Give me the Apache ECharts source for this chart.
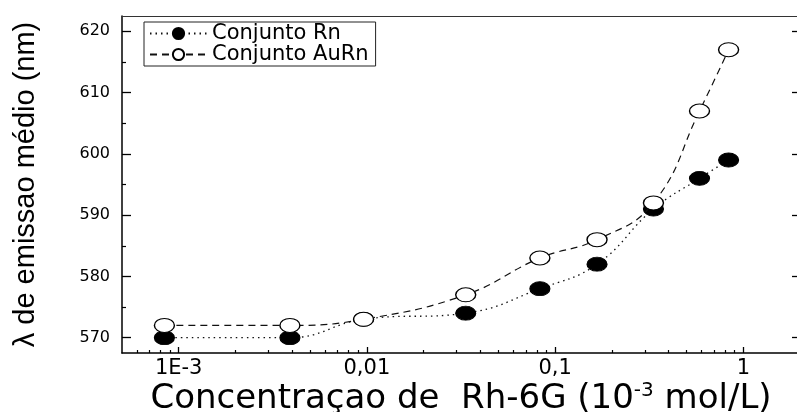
<!DOCTYPE html>
<html>
<head>
<meta charset="utf-8">
<script src="https://cdn.jsdelivr.net/npm/echarts@6/dist/echarts.min.js"></script>
<style>
  html, body { margin: 0; padding: 0; background: #fff; }
  #chart { width: 797px; height: 412px; }
</style>
</head>
<body>
<div id="chart"></div>
<script>
// Rh-6G concentration (10^-3 mol/L) and mean emission wavelength (nm)
const concentration = [0.00084, 0.0039, 0.0096, 0.0335, 0.083, 0.167, 0.333, 0.585, 0.835];
const lambdaRn      = [570, 570, 573, 574, 578, 582, 591, 596, 599];
const lambdaAuRn    = [572, 572, 573, 577, 583, 586, 592, 607, 617];

const seriesNames = ['Conjunto Rn', 'Conjunto AuRn'];

const xTickValues = [0.001, 0.01, 0.1, 1];
const xTickLabels = ['1E-3', '0,01', '0,1', '1'];
const yTickValues = [570, 580, 590, 600, 610, 620];
const yTickLabels = ['570', '580', '590', '600', '610', '620'];
const yMinorValues = [575, 585, 595, 605, 615];

const xMin = 0.0005, xMax = 2;
const yMin = 567.5, yMax = 622.5;

// logarithmic minor ticks at 2..9 of each decade
const xMinorValues = [];
for (let e = -4; e <= 0; e++) {
  for (let m = 2; m <= 9; m++) {
    const v = Number((m * Math.pow(10, e)).toPrecision(6));
    if (v > xMin && v < xMax) xMinorValues.push(v);
  }
}

const pairs = (xs, ys) => xs.map((x, i) => [x, ys[i]]);

function xLabel(value) {
  for (let i = 0; i < xTickValues.length; i++) {
    if (Math.abs(Math.log10(value) - Math.log10(xTickValues[i])) < 1e-6) return xTickLabels[i];
  }
  return '';
}
function yLabel(value) {
  const i = yTickValues.indexOf(Math.round(value));
  return i >= 0 ? yTickLabels[i] : '';
}

const black = '#000';
const sans = 'Liberation Sans, Arial, sans-serif';
const wide = 'DejaVu Sans, sans-serif';

const chart = echarts.init(document.getElementById('chart'), null, { renderer: 'canvas' });

const hiddenLabel = { show: false };
const baseX = { type: 'log', logBase: 10, min: xMin, max: xMax, gridIndex: 0, splitLine: { show: false } };
const baseY = { type: 'value', min: yMin, max: yMax, gridIndex: 0, splitLine: { show: false } };

chart.setOption({
  animation: false,
  backgroundColor: '#fff',
  textStyle: { fontFamily: sans, color: black },
  grid: { left: 122, top: 16, right: -3, bottom: 59, containLabel: false, outerBoundsMode: 'none' },
  legend: {
    left: 144, top: 22,
    orient: 'vertical',
    data: seriesNames,
    itemWidth: 57, itemHeight: 14, itemGap: 0,
    padding: [1, 7, 1, 5],
    borderColor: '#222', borderWidth: 1,
    backgroundColor: '#fff',
    textStyle: { fontFamily: wide, fontSize: 21, color: black }
  },
  xAxis: [
    Object.assign({}, baseX, {
      position: 'bottom',
      axisLine: { show: true, lineStyle: { color: black, width: 1.5 } },
      axisTick: { show: true, inside: true, length: 6, customValues: xTickValues, lineStyle: { color: black, width: 1.3 } },
      axisLabel: { show: true, customValues: xTickValues, formatter: xLabel, margin: 5,
                   fontFamily: wide, fontSize: 21, color: black },
      name: 'Concentraçao de  Rh-6G (10{sup|-3} mol/L)',
      nameLocation: 'middle',
      nameGap: 28,
      nameMoveOverlap: false,
      nameTextStyle: {
        fontFamily: wide, fontSize: 34, color: black, lineHeight: 36,
        rich: { sup: { fontFamily: wide, fontSize: 20, color: black, verticalAlign: 'top', lineHeight: 36, padding: [0, 0, 14, 0] } }
      }
    }),
    Object.assign({}, baseX, {
      position: 'bottom',
      axisLine: { show: false },
      axisTick: { show: true, inside: true, length: 3, customValues: xMinorValues, lineStyle: { color: black, width: 1.2 } },
      axisLabel: hiddenLabel
    }),
    Object.assign({}, baseX, {
      position: 'top',
      axisLine: { show: true, lineStyle: { color: '#333', width: 1.2 } },
      axisTick: { show: false },
      axisLabel: hiddenLabel
    })
  ],
  yAxis: [
    Object.assign({}, baseY, {
      position: 'left',
      axisLine: { show: true, lineStyle: { color: black, width: 1.5 } },
      axisTick: { show: true, inside: true, length: 9, customValues: yTickValues, lineStyle: { color: black, width: 1.3 } },
      axisLabel: { show: true, customValues: yTickValues, formatter: yLabel, margin: 12,
                   fontFamily: wide, fontSize: 16, color: black },
      name: 'λ de emissao médio (nm)',
      nameLocation: 'middle',
      nameGap: 82,
      nameMoveOverlap: false,
      nameTextStyle: { fontFamily: sans, fontSize: 29, color: black }
    }),
    Object.assign({}, baseY, {
      position: 'left',
      axisLine: { show: false },
      axisTick: { show: true, inside: true, length: 4, customValues: yMinorValues, lineStyle: { color: black, width: 1.2 } },
      axisLabel: hiddenLabel
    }),
    Object.assign({}, baseY, {
      position: 'right',
      axisLine: { show: true, lineStyle: { color: black, width: 1.5 } },
      axisTick: { show: true, inside: true, length: 8, customValues: yTickValues, lineStyle: { color: black, width: 1.3 } },
      axisLabel: hiddenLabel
    }),
    Object.assign({}, baseY, {
      position: 'right',
      axisLine: { show: false },
      axisTick: { show: true, inside: true, length: 3, customValues: yMinorValues, lineStyle: { color: black, width: 1.2 } },
      axisLabel: hiddenLabel
    })
  ],
  series: [
    {
      name: seriesNames[0],
      type: 'line',
      xAxisIndex: 0, yAxisIndex: 0,
      data: pairs(concentration, lambdaRn),
      smooth: 0.45,
      symbol: 'circle',
      symbolSize: [20, 14],
      itemStyle: { color: black, borderColor: black, borderWidth: 1 },
      lineStyle: { color: '#111', width: 1.3, type: [1.5, 4] },
      z: 2
    },
    {
      name: seriesNames[1],
      type: 'line',
      xAxisIndex: 0, yAxisIndex: 0,
      data: pairs(concentration, lambdaAuRn),
      smooth: 0.45,
      symbol: 'circle',
      symbolSize: [20, 14],
      itemStyle: { color: '#fff', borderColor: black, borderWidth: 1.2 },
      lineStyle: { color: '#111', width: 1.2, type: [7, 5] },
      z: 3
    }
  ]
});
</script>
</body>
</html>
